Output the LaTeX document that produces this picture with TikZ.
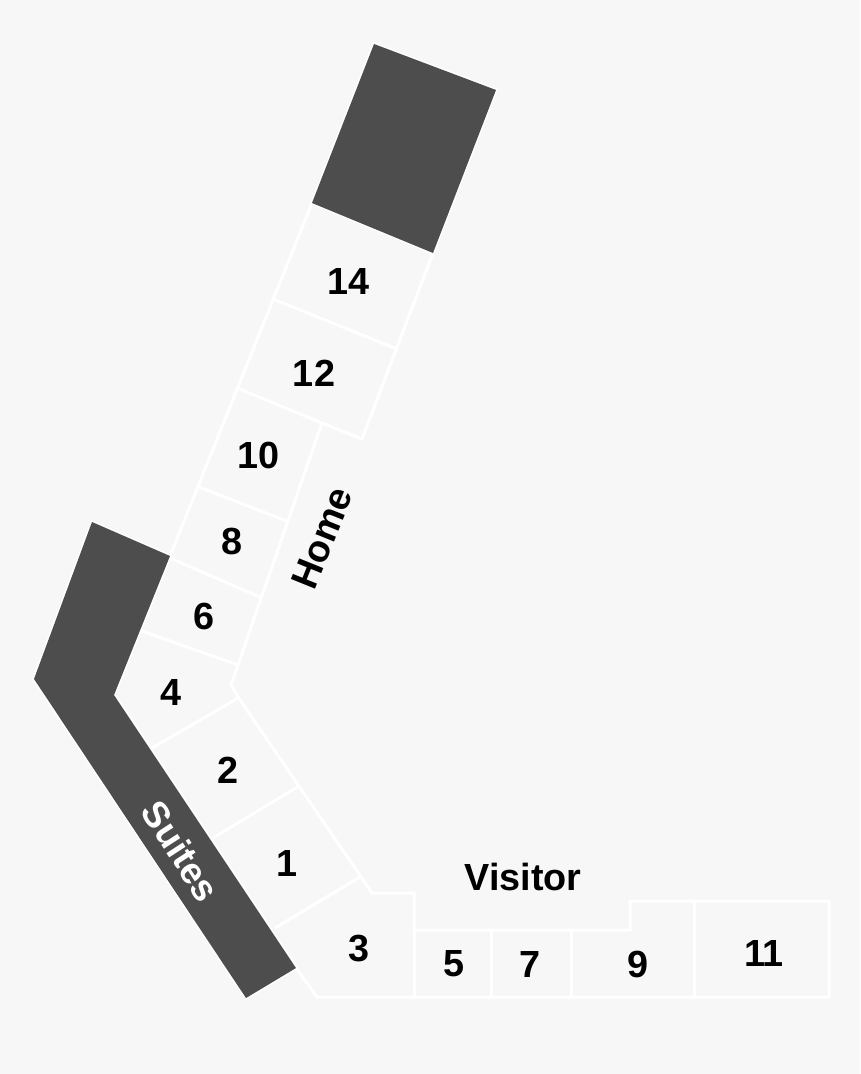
\documentclass[tikz,border=0pt]{standalone}
\usepackage{fontspec}
\setmainfont{Liberation Sans}
\definecolor{bg}{HTML}{F7F7F7}
\definecolor{dark}{HTML}{4D4D4D}
\tikzset{
  px/.style={x=0.02cm,y=-0.02cm},
  seat/.style={draw=white,line width=1.7pt,line join=miter},
  lab/.style={font=\bfseries\fontsize{21.5}{22}\selectfont,text=black,inner sep=0pt},
}
\begin{document}
\begin{tikzpicture}[px]
\useasboundingbox (0,0) rectangle (860,1074);
\fill[bg] (0,0) rectangle (860,1074);
% outline and dividers
\draw[seat] (312,203) -- (170,556) -- (114,695) -- (296,968) -- (317,997) -- (829,997) -- (829,901) -- (630,901) -- (630,930) -- (414,930) -- (414,893) -- (372,893) -- (238,697) -- (231,685) -- (322,423) -- (362,439) -- (433,253);
\draw[seat] (273,299) -- (397,349);
\draw[seat] (237,388) -- (322,423);
\draw[seat] (199,487) -- (289,522);
\draw[seat] (170,558) -- (262,598);
\draw[seat] (139,630) -- (238,665);
\draw[seat] (152,748) -- (240,697);
\draw[seat] (213,838) -- (299,786);
\draw[seat] (275,928) -- (360,877);
\draw[seat] (414,930) -- (414,997);
\draw[seat] (491,930) -- (491,997);
\draw[seat] (571,930) -- (571,997);
\draw[seat] (694,901) -- (694,997);
% dark blocks
\draw[seat] (374,44) -- (496,90) -- (433,253) -- (312,203) -- cycle;
\draw[seat] (92,522) -- (170,556) -- (114,695) -- (296,968) -- (246,998) -- (34,679) -- cycle;
\fill[dark] (374,44) -- (496,90) -- (433,253) -- (312,203) -- cycle;
\fill[dark] (92,522) -- (170,556) -- (114,695) -- (296,968) -- (246,998) -- (34,679) -- cycle;
% labels
\node[lab] (n14) at (349,282) {14};
\node[lab] (n12) at (314,373) {12};
\node[lab] (n10) at (259,455) {10};
\node[lab] (n8) at (232,541) {8};
\node[lab] (n6) at (204,616) {6};
\node[lab] (n4) at (171,692) {4};
\node[lab] (n2) at (228,770) {2};
\node[lab] (n1) at (287,863) {1};
\node[lab] (n3) at (359,949) {3};
\node[lab] (n5) at (454,964) {5};
\node[lab] (n7) at (530,964) {7};
\node[lab] (n9) at (638,964) {9};
\node[lab] (n11) at (764,953) {11};
\node[lab] (visitor) at (523,877) {Visitor};
\node[lab,rotate=68] (home) at (322,538) {Home};
\node[lab,rotate=-57,text=white,font=\bfseries\fontsize{21}{22}\selectfont] (suites) at (181,851) {Suites};
\end{tikzpicture}
\end{document}
